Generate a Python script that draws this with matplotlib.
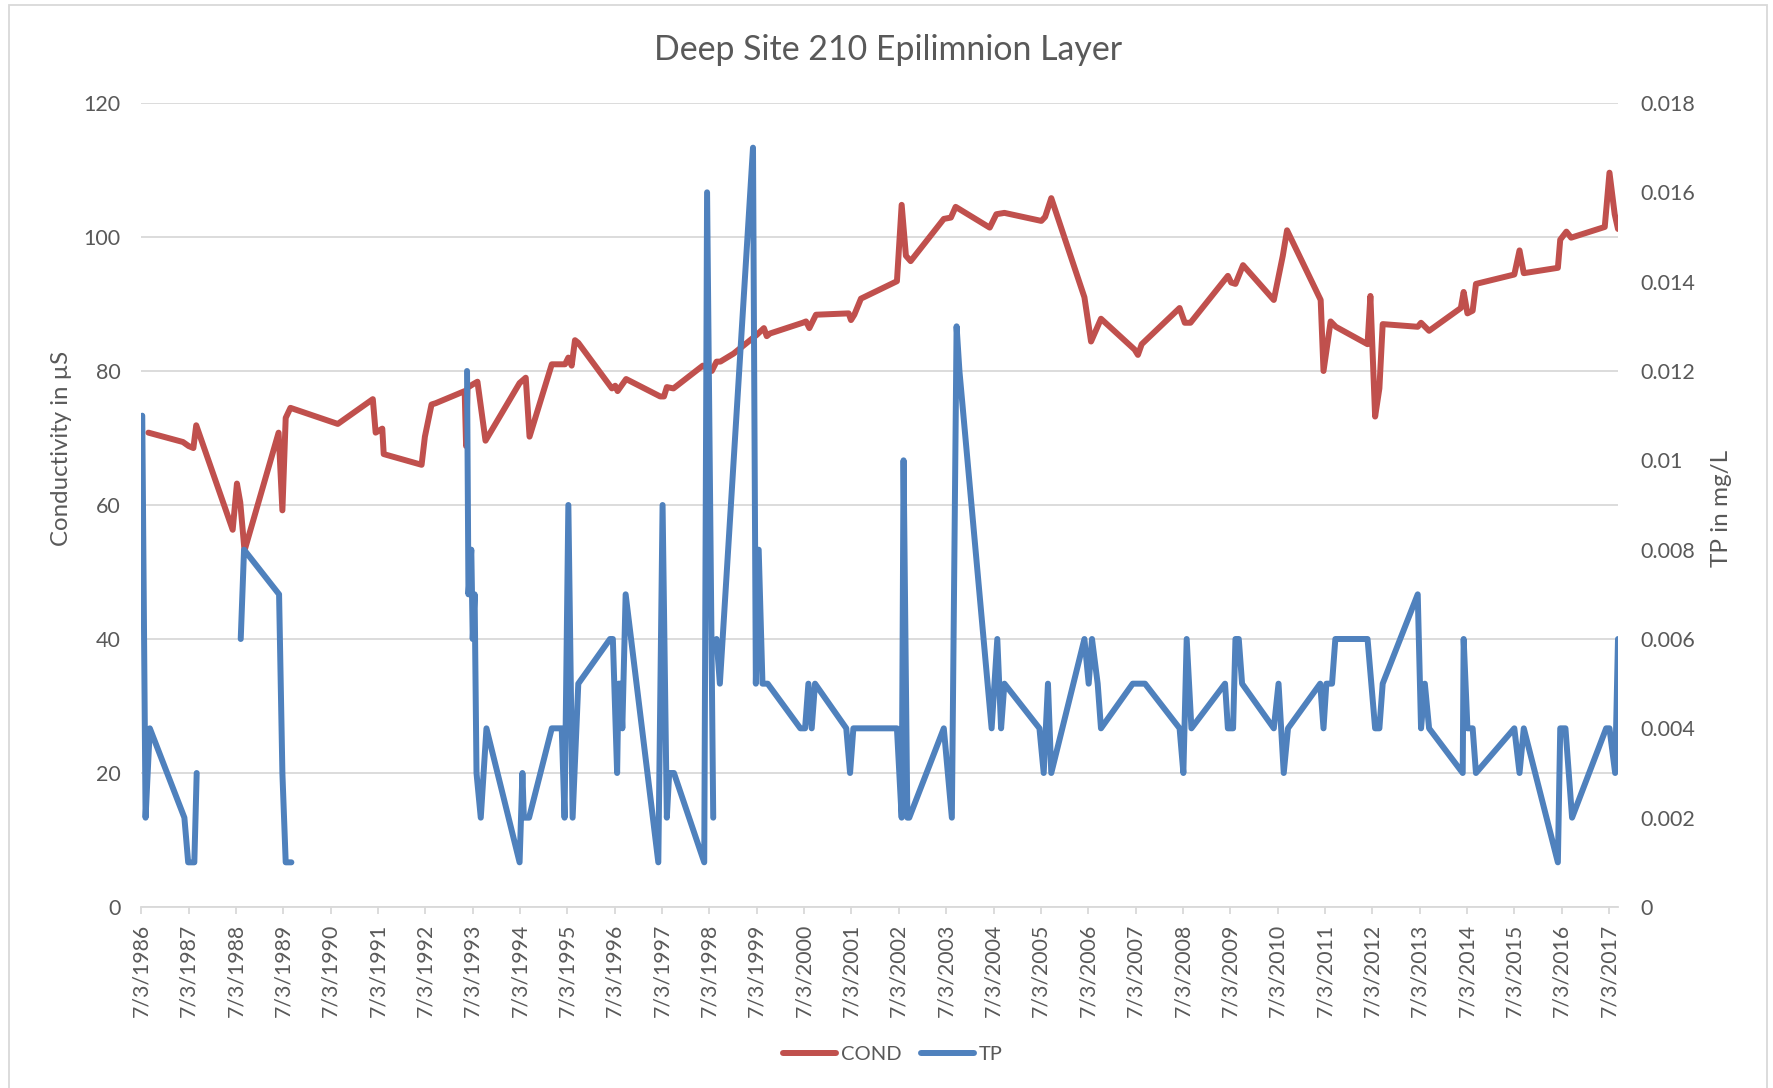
# -*- coding: utf-8 -*-

import numpy as np
import matplotlib.pyplot as plt
from matplotlib.patches import Rectangle

# sample dates as decimal years (7/3 of a year ~ year + 0.5)
cond_t = [1986.65, 1987.38, 1987.50, 1987.60, 1987.66, 1988.43, 1988.52, 1988.59, 1988.68,
          1989.40, 1989.48, 1989.55, 1989.65, 1990.65, 1991.39, 1991.45, 1991.59, 1991.62,
          1992.42, 1992.49, 1992.63, 1992.72, 1993.33, 1993.36, 1993.39, 1993.50, 1993.60,
          1993.77, 1994.49, 1994.62, 1994.70, 1995.17, 1995.45, 1995.52, 1995.59, 1995.66,
          1995.73, 1996.44, 1996.51, 1996.56, 1996.74, 1997.46, 1997.54, 1997.60, 1997.74,
          1998.36, 1998.55, 1998.65, 1998.73, 1999.01, 1999.50, 1999.65, 1999.71, 1999.78,
          2000.47, 2000.54, 2000.61, 2000.75, 2001.44, 2001.49, 2001.56, 2001.70, 2002.46,
          2002.56, 2002.65, 2002.75, 2003.45, 2003.60, 2003.70, 2004.42, 2004.56, 2004.73,
          2005.51, 2005.59, 2005.72, 2006.42, 2006.56, 2006.77, 2007.48, 2007.55, 2007.63,
          2008.43, 2008.54, 2008.66, 2009.45, 2009.52, 2009.61, 2009.77, 2010.42, 2010.61,
          2010.70, 2011.41, 2011.47, 2011.62, 2011.73, 2012.40, 2012.46, 2012.56, 2012.65,
          2012.72, 2013.46, 2013.53, 2013.70, 2014.37, 2014.43, 2014.51, 2014.62, 2014.69,
          2015.50, 2015.61, 2015.70, 2016.42, 2016.47, 2016.60, 2016.70, 2017.41, 2017.51,
          2017.62, 2017.69]
cond_v = [70.8, 69.4, 68.8, 68.5, 71.9, 56.3, 63.2, 60.4, 53.2,
          70.8, 59.2, 73.0, 74.5, 72.1, 75.8, 70.8, 71.4, 67.6,
          66.0, 70.2, 75.0, 75.2, 77.0, 68.8, 77.5, 78.0, 78.4,
          69.6, 78.2, 79.0, 70.2, 81.0, 81.0, 82.0, 80.8, 84.6,
          84.2, 77.4, 77.8, 77.0, 78.8, 76.2, 76.2, 77.6, 77.4,
          80.8, 80.0, 81.4, 81.4, 82.6, 85.4, 86.4, 85.2, 85.6,
          87.2, 87.4, 86.4, 88.4, 88.6, 87.6, 88.4, 90.8, 93.4,
          104.8, 97.2, 96.4, 102.7, 102.9, 104.5, 101.4, 103.4, 103.6,
          102.4, 103.0, 105.8, 91.0, 84.4, 87.8, 83.2, 82.4, 84.0,
          89.4, 87.2, 87.2, 94.2, 93.2, 93.0, 95.8, 90.6, 97.2,
          101.0, 90.6, 80.0, 87.4, 86.6, 84.0, 91.2, 73.2, 77.4,
          87.0, 86.6, 87.2, 86.0, 89.4, 91.8, 88.6, 89.0, 93.0,
          94.4, 98.0, 94.6, 95.4, 99.6, 100.8, 99.9, 101.5, 109.6,
          103.4, 101.2]

# nan marks the breaks in the TP record
tp_t = [1986.52, 1986.59, 1986.68, 1987.41, 1987.49, 1987.62, 1987.67, 1988.0,
        1988.60, 1988.67, 1989.41, 1989.48, 1989.55, 1989.67, 1991.0,
        1993.38, 1993.41, 1993.47, 1993.50, 1993.54, 1993.58, 1993.67, 1993.79,
        1994.49, 1994.55, 1994.58, 1994.69, 1995.17, 1995.38, 1995.44, 1995.52,
        1995.61, 1995.73, 1996.40, 1996.46, 1996.55, 1996.58, 1996.62, 1996.66,
        1996.73, 1997.42, 1997.51, 1997.60, 1997.65, 1997.75, 1998.39, 1998.45,
        1998.58, 1998.62, 1998.65, 1998.72, 1999.42, 1999.48, 1999.54, 1999.62,
        1999.73, 2000.42, 2000.52, 2000.59, 2000.66, 2000.73, 2001.39, 2001.47,
        2001.54, 2002.46, 2002.56, 2002.60, 2002.68, 2002.72, 2003.45, 2003.62,
        2003.72, 2003.78, 2004.46, 2004.58, 2004.66, 2004.73, 2005.47, 2005.56,
        2005.65, 2005.72, 2006.42, 2006.51, 2006.58, 2006.70, 2006.77, 2007.44,
        2007.70, 2008.43, 2008.51, 2008.58, 2008.68, 2009.39, 2009.45, 2009.56,
        2009.61, 2009.68, 2009.75, 2010.42, 2010.52, 2010.63, 2010.72, 2011.40,
        2011.47, 2011.53, 2011.65, 2011.72, 2012.40, 2012.56, 2012.65, 2012.72,
        2013.46, 2013.53, 2013.61, 2013.70, 2014.41, 2014.43, 2014.51, 2014.62,
        2014.69, 2015.50, 2015.61, 2015.70, 2016.42, 2016.47, 2016.58, 2016.72,
        2017.44, 2017.51, 2017.63, 2017.69]
tp_v = [0.011, 0.002, 0.004, 0.002, 0.001, 0.001, 0.003, np.nan,
        0.006, 0.008, 0.007, 0.003, 0.001, 0.001, np.nan,
        0.012, 0.007, 0.008, 0.006, 0.007, 0.003, 0.002, 0.004,
        0.001, 0.003, 0.002, 0.002, 0.004, 0.004, 0.002, 0.009,
        0.002, 0.005, 0.006, 0.006, 0.003, 0.005, 0.005, 0.004,
        0.007, 0.001, 0.009, 0.002, 0.003, 0.003, 0.001, 0.016,
        0.002, np.nan, 0.006, 0.005, 0.017, 0.005, 0.008, 0.005,
        0.005, 0.004, 0.004, 0.005, 0.004, 0.005, 0.004, 0.003,
        0.004, 0.004, 0.002, 0.010, 0.002, 0.002, 0.004, 0.002,
        0.013, 0.012, 0.004, 0.006, 0.004, 0.005, 0.004, 0.003,
        0.005, 0.003, 0.006, 0.005, 0.006, 0.005, 0.004, 0.005,
        0.005, 0.004, 0.003, 0.006, 0.004, 0.005, 0.004, 0.004,
        0.006, 0.006, 0.005, 0.004, 0.005, 0.003, 0.004, 0.005,
        0.004, 0.005, 0.005, 0.006, 0.006, 0.004, 0.004, 0.005,
        0.007, 0.004, 0.005, 0.004, 0.003, 0.006, 0.004, 0.004,
        0.003, 0.004, 0.003, 0.004, 0.001, 0.004, 0.004, 0.002,
        0.004, 0.004, 0.003, 0.006]

years = list(range(1986, 2018))
year_labels = ['7/3/%d' % y for y in years]
left_ticks = [0, 20, 40, 60, 80, 100, 120]
right_ticks = [0, 0.002, 0.004, 0.006, 0.008, 0.010, 0.012, 0.014, 0.016, 0.018]

RED = '#C0504D'
BLUE = '#4F81BD'
GRID = '#D9D9D9'
TXT = '#595959'
W, H = 1774, 1088

plt.rcParams['font.family'] = ['Lato', 'DejaVu Sans']

fig = plt.figure(figsize=(W / 100, H / 100), dpi=100)
# chart area border
fig.patches.append(Rectangle((9 / W, -0.01), 1758 / W, 1 - 5 / H + 0.01, transform=fig.transFigure,
                             fill=False, edgecolor=GRID, lw=1.3))

x0, x1, y0, y1 = 141.3, 1618, 103, 907
ax = fig.add_axes([x0 / W, 1 - y1 / H, (x1 - x0) / W, (y1 - y0) / H])
ax2 = ax.twinx()

l1, = ax.plot(cond_t, cond_v, color=RED, lw=4.3, solid_capstyle='round', solid_joinstyle='round')
l2, = ax2.plot(tp_t, tp_v, color=BLUE, lw=4.3, solid_capstyle='round', solid_joinstyle='round')

ax.set_xlim(1986.5, 2017.69)
ax.set_ylim(0, 120)
ax2.set_ylim(0, 0.018)

ax.set_xticks([y + 0.5 for y in years])
ax.set_xticklabels(year_labels, rotation=90, fontsize=15.3, color=TXT)
ax.set_yticks(left_ticks)
ax.set_yticklabels([str(v) for v in left_ticks], fontsize=15.5, color=TXT)
ax2.set_yticks(right_ticks)
ax2.set_yticklabels(['%g' % v for v in right_ticks], fontsize=15.5, color=TXT)

ax.tick_params(axis='x', length=5, width=1.3, color=GRID, pad=7)
ax.tick_params(axis='y', length=0, pad=15)
ax2.tick_params(axis='y', length=0, pad=16)

ax.yaxis.grid(True, color=GRID, lw=1.3)
ax.set_axisbelow(True)
for s in ['top', 'left', 'right']:
    ax.spines[s].set_visible(False)
for s in ax2.spines:
    ax2.spines[s].set_visible(False)
ax.spines['bottom'].set_color(GRID)
ax.spines['bottom'].set_linewidth(1.3)
ax.spines['bottom'].set_zorder(0)

fig.text(888 / W, 1 - 50 / H, 'Deep Site 210 Epilimnion Layer', ha='center', va='center',
         fontsize=24.4, color=TXT)
fig.text(62 / W, 1 - 448 / H, 'Conductivity in µS', ha='center', va='center', rotation=90,
         fontsize=17.3, color=TXT)
fig.text(1722 / W, 1 - 508 / H, 'TP in mg/L', ha='center', va='center', rotation=90,
         fontsize=17.5, color=TXT)

leg = fig.legend([l1, l2], ['COND', 'TP'], loc='center', bbox_to_anchor=(893 / W, 1 - 1054 / H),
                 ncol=2, frameon=False, handlelength=2.6, handletextpad=0.25, columnspacing=1.0,
                 fontsize=14.5)
for t in leg.get_texts():
    t.set_color(TXT)

fig.savefig('out.png', dpi=100)
